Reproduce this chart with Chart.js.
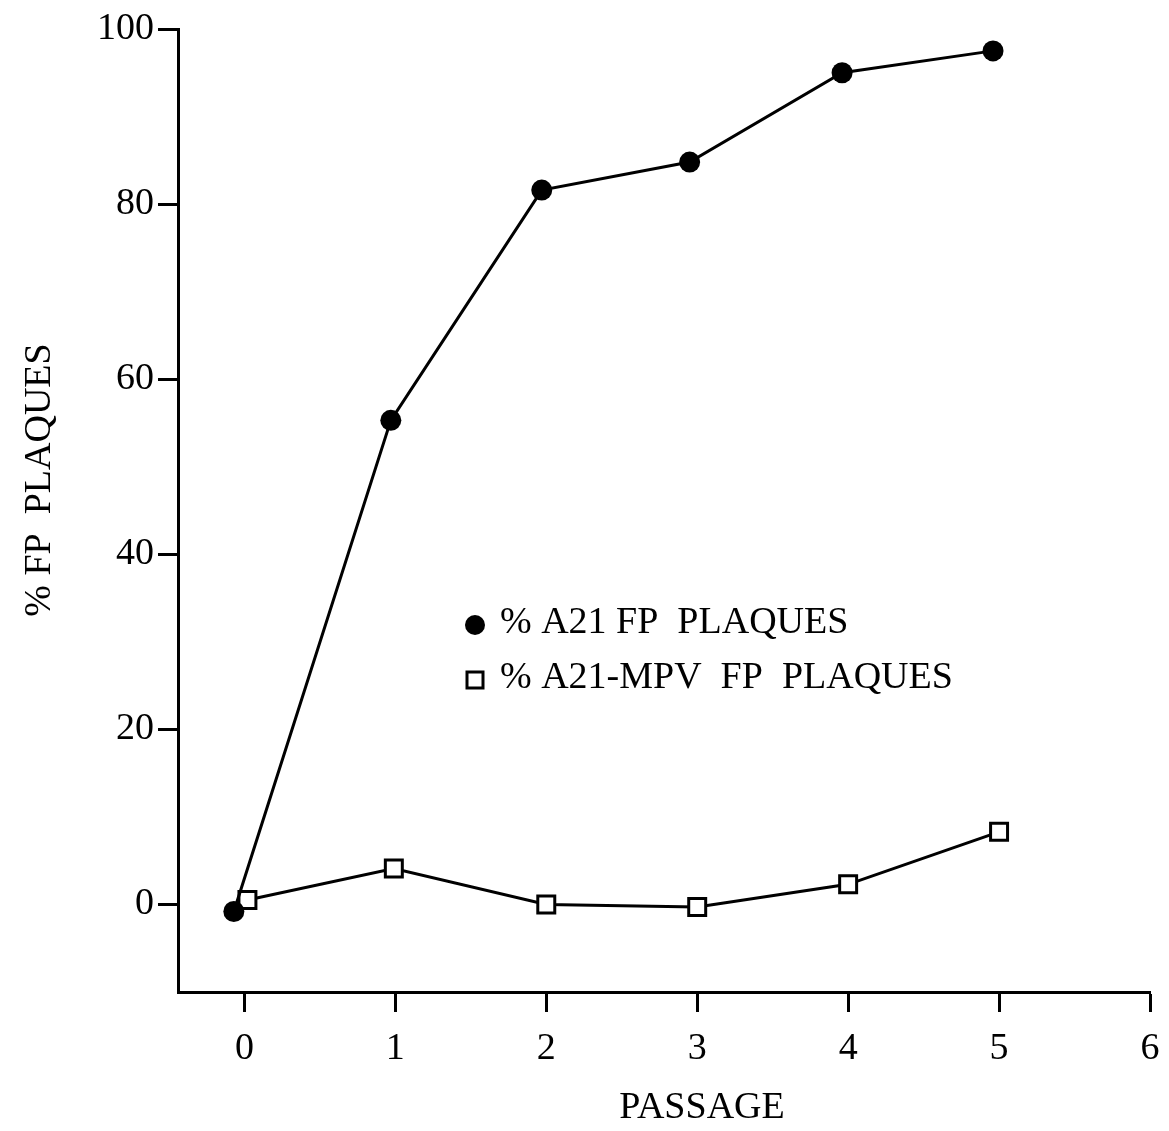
<!DOCTYPE html>
<html>
<head>
<meta charset="utf-8">
<script src="https://cdn.jsdelivr.net/npm/chart.js@4.4.1/dist/chart.umd.min.js"></script>
<style>
html,body{margin:0;padding:0;background:#fff;}
#wrap{width:1169px;height:1131px;position:relative;}
</style>
</head>
<body>
<div id="wrap"><canvas id="c" width="1169" height="1131"></canvas></div>
<script>
// ---- data ----
const a21X = [-0.07, 0.97, 1.97, 2.95, 3.96, 4.96];
const a21Y = [-0.8, 55.3, 81.6, 84.8, 95.0, 97.5];
const mpvX = [0.02, 0.99, 2.0, 3.0, 4.0, 5.0];
const mpvY = [0.5, 4.1, 0.0, -0.3, 2.3, 8.3];
const xTicks = [0, 1, 2, 3, 4, 5, 6];
const yTicks = [0, 20, 40, 60, 80, 100];
const seriesLabels = ['% A21 FP  PLAQUES', '% A21-MPV  FP  PLAQUES'];
const xTitle = 'PASSAGE';
const yTitle = '% FP  PLAQUES';

const FONT = 'Liberation Serif';
const FS = 38;

const toPts = (xs, ys) => xs.map((x, i) => ({x: x, y: ys[i]}));

const annotPlugin = {
  id: 'innerLegend',
  afterDraw(chart) {
    const ctx = chart.ctx;
    const ds = chart.data.datasets;
    const x0 = 475, rows = [625, 680];
    ctx.save();
    ctx.font = FS + 'px "' + FONT + '"';
    ctx.fillStyle = '#000';
    ctx.textBaseline = 'middle';
    ctx.textAlign = 'left';
    // row 1: filled circle
    ctx.beginPath();
    ctx.arc(x0, rows[0], 10, 0, Math.PI * 2);
    ctx.fill();
    ctx.fillText(ds[0].label, x0 + 25, rows[0] - 2);
    // row 2: open square
    ctx.lineWidth = 3;
    ctx.strokeStyle = '#000';
    ctx.fillStyle = '#fff';
    ctx.fillRect(x0 - 8, rows[1] - 8, 16, 16);
    ctx.strokeRect(x0 - 8, rows[1] - 8, 16, 16);
    ctx.fillStyle = '#000';
    ctx.fillText(ds[1].label, x0 + 25, rows[1] - 2);
    // axis titles
    ctx.textAlign = 'center';
    ctx.fillText(xTitle, 702, 1108);
    ctx.translate(40, 480);
    ctx.rotate(-Math.PI / 2);
    ctx.fillText(yTitle, 0, 0);
    ctx.restore();
  }
};

new Chart(document.getElementById('c'), {
  type: 'scatter',
  data: {
    datasets: [
      {
        label: seriesLabels[0],
        data: toPts(a21X, a21Y),
        showLine: true,
        borderColor: '#000',
        borderWidth: 3,
        backgroundColor: '#000',
        pointStyle: 'circle',
        pointRadius: 10.5,
        pointBorderWidth: 0,
        pointBackgroundColor: '#000',
        tension: 0
      },
      {
        label: seriesLabels[1],
        data: toPts(mpvX, mpvY),
        showLine: true,
        borderColor: '#000',
        borderWidth: 3,
        backgroundColor: '#fff',
        pointStyle: 'rect',
        pointRadius: 12,
        pointBorderWidth: 3,
        pointBorderColor: '#000',
        pointBackgroundColor: '#fff',
        tension: 0
      }
    ]
  },
  options: {
    responsive: false,
    animation: false,
    layout: { padding: { top: 29, right: 19, left: 0, bottom: 0 } },
    plugins: { legend: { display: false }, tooltip: { enabled: false } },
    scales: {
      x: {
        type: 'linear',
        min: -0.44,
        max: 6,
        afterBuildTicks: (s) => { s.ticks = xTicks.map(v => ({value: v})); },
        afterFit: (s) => { s.height = 139; s.paddingRight = 0; s.paddingLeft = 0; },
        border: { display: true, color: '#000', width: 3 },
        grid: { display: true, drawOnChartArea: false, drawTicks: true, tickLength: 20, tickColor: '#000', tickWidth: 3, color: '#000' },
        ticks: { color: '#000', font: { family: FONT, size: FS }, padding: 14, maxRotation: 0 },
        title: { display: false }
      },
      y: {
        type: 'linear',
        min: -10,
        max: 100,
        afterBuildTicks: (s) => { s.ticks = yTicks.map(v => ({value: v})); },
        afterFit: (s) => { s.width = 178; s.paddingTop = 0; s.paddingBottom = 0; },
        border: { display: true, color: '#000', width: 3 },
        grid: { display: true, drawOnChartArea: false, drawTicks: true, tickLength: 20, tickColor: '#000', tickWidth: 3, color: '#000' },
        ticks: { color: '#000', font: { family: FONT, size: FS }, padding: 4 },
        title: { display: false }
      }
    }
  },
  plugins: [annotPlugin]
});
</script>
</body>
</html>
